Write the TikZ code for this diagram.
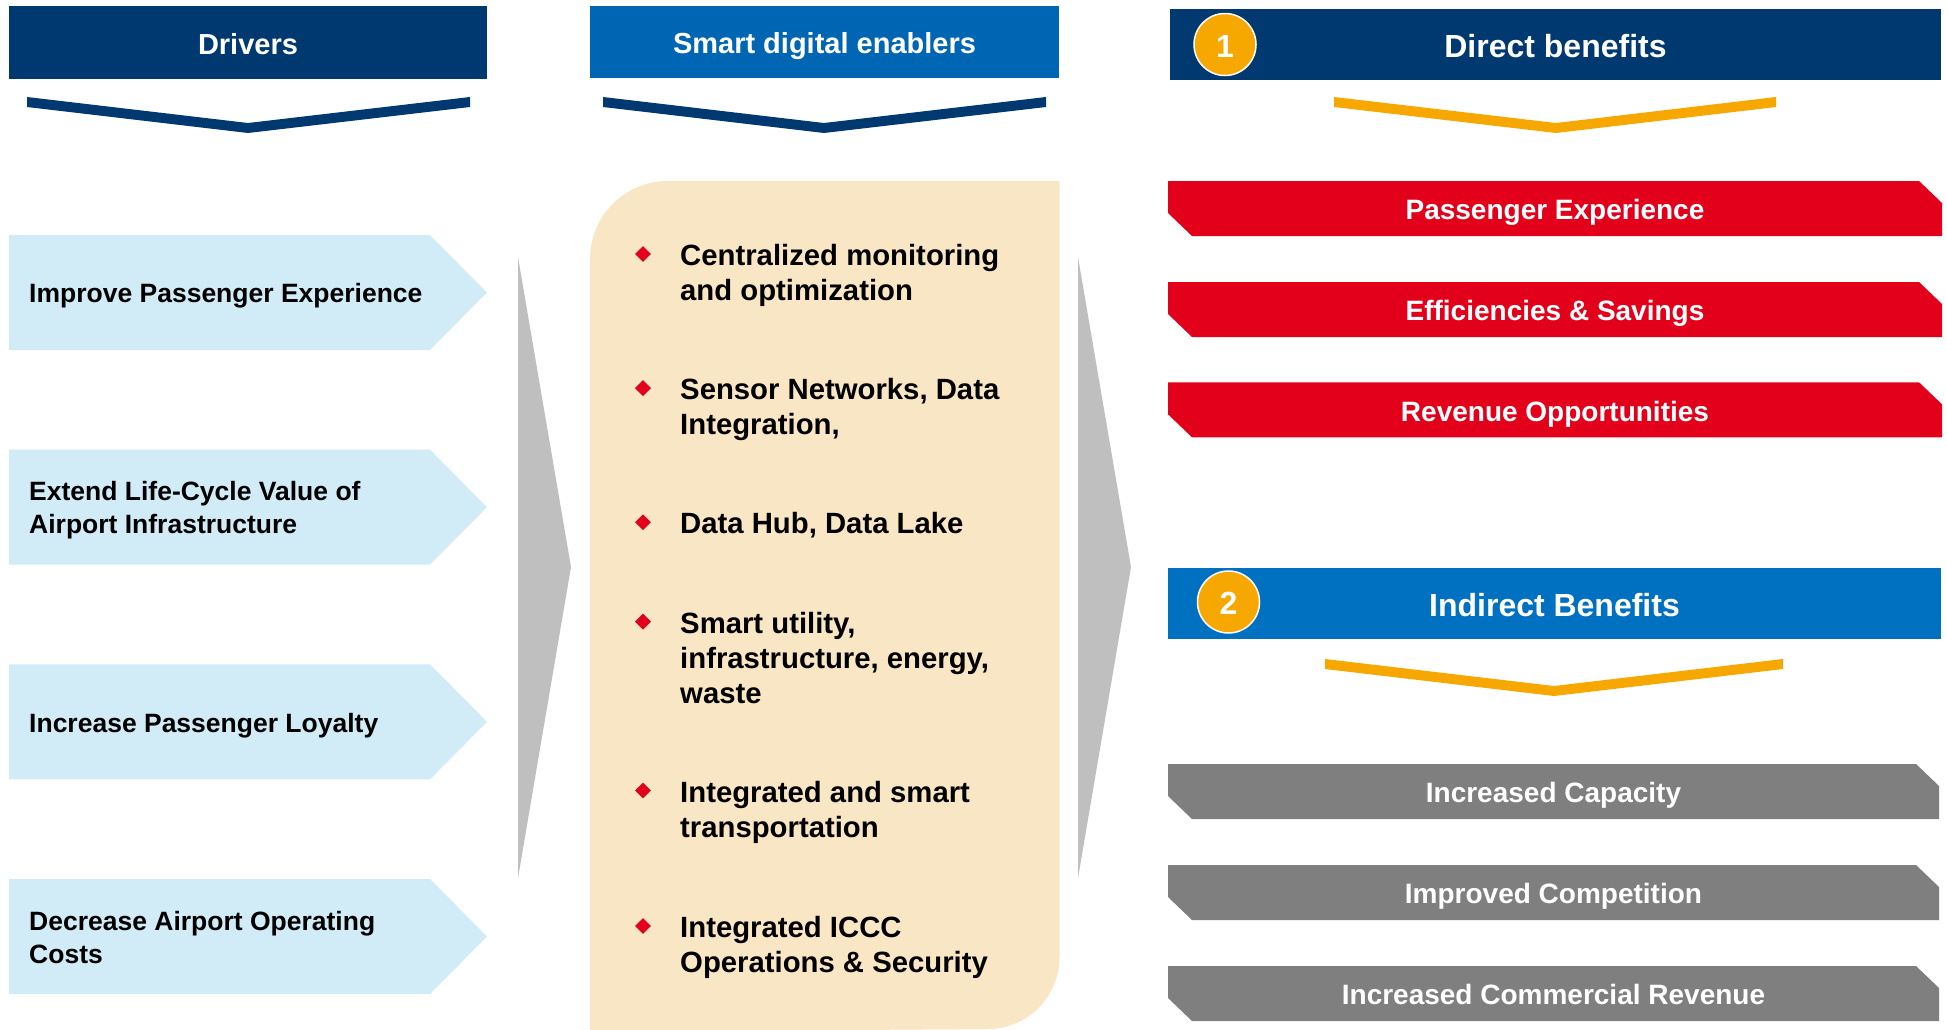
\documentclass[tikz,border=0pt]{standalone}
\usepackage{fontspec}
\setmainfont{Liberation Sans}
\usetikzlibrary{shapes.geometric}
\definecolor{navyC}{HTML}{003870}
\definecolor{midblueC}{HTML}{0066B3}
\definecolor{indblueC}{HTML}{0070C0}
\definecolor{orangeC}{HTML}{F7A800}
\definecolor{lightblueC}{HTML}{D1ECF7}
\definecolor{beigeC}{HTML}{F9E6C4}
\definecolor{redC}{HTML}{E2001A}
\definecolor{greyC}{HTML}{7F7F7F}
\definecolor{triC}{HTML}{BFBFBF}
\tikzset{
  hdrL/.style={inner sep=0pt, text=white, font=\bfseries\fontsize{29}{35}\selectfont, text height=23.5pt, text depth=0pt},
  hdrR/.style={inner sep=0pt, text=white, font=\bfseries\fontsize{32}{38}\selectfont, text height=26pt, text depth=0pt},
  bannertext/.style={inner sep=0pt, text=white, font=\bfseries\fontsize{28}{34}\selectfont, text height=22.5pt, text depth=0pt},
  drvtext/.style={anchor=base west, inner sep=0pt, text=black, font=\bfseries\fontsize{26.5}{33}\selectfont},
  enbtext/.style={anchor=base west, inner sep=0pt, text=black, font=\bfseries\fontsize{29.3}{35}\selectfont},
  bulletmark/.style={diamond, fill=redC, minimum width=16pt, minimum height=16pt, inner sep=0pt},
  numcircle/.style={circle, fill=orangeC, draw=white, line width=1.5pt, minimum size=62pt, inner sep=0pt, text=white, font=\bfseries\fontsize{32}{38}\selectfont, text height=25pt, text depth=0pt},
}
\newcommand{\drvbox}[1]{(9,#1) -- (430,#1) -- (487,#1+57.5) -- (430,#1+115) -- (9,#1+115) -- cycle}
\newcommand{\bannerpath}[3]{(#1,#3) -- (#2-23,#3) -- (#2,#3+22) -- (#2,#3+55) -- (#1+24,#3+55) -- (#1,#3+32) -- cycle}
\begin{document}
\begin{tikzpicture}[x=1pt,y=-1pt]
\useasboundingbox (0,0) rectangle (1947,1029);
\fill[white] (0,0) rectangle (1947,1029);

% ---------- headers ----------
\node[fill=navyC, minimum width=478pt, minimum height=73pt, hdrL] (drivers) at (248,42.5) {Drivers};
\node[fill=midblueC, minimum width=469pt, minimum height=72pt, hdrL] (enablers) at (824.5,42) {Smart digital enablers};
\node[fill=navyC, minimum width=771pt, minimum height=71pt, hdrR] (direct) at (1555.5,44.5) {Direct benefits};
\node[fill=indblueC, minimum width=773pt, minimum height=71pt, hdrR] (indirect) at (1554.5,603) {Indirect Benefits};
\node[numcircle] (one) at (1225,44.5) {1};
\node[numcircle] (two) at (1228.5,602) {2};

% ---------- chevrons ----------
\fill[navyC] (27,97) -- (248,123) -- (470,97) -- (470,107) -- (248,133) -- (27,107) -- cycle;
\fill[navyC] (603,97) -- (824,123) -- (1046,97) -- (1046,107) -- (824,133) -- (603,107) -- cycle;
\fill[orangeC] (1334,97) -- (1556,123) -- (1776,97) -- (1776,107) -- (1556,133) -- (1334,107) -- cycle;
\fill[orangeC] (1325,659) -- (1554,686) -- (1783,659) -- (1783,669) -- (1554,696) -- (1325,669) -- cycle;

% ---------- drivers ----------
\fill[lightblueC] \drvbox{235};
\fill[lightblueC] \drvbox{449.7};
\fill[lightblueC] \drvbox{664.3};
\fill[lightblueC] \drvbox{879};
\node[drvtext] (d1) at (29,302.5) {Improve Passenger Experience};
\node[drvtext] (d2) at (29,500.5) {\begin{tabular}[t]{@{}l@{}}Extend Life-Cycle Value of\\Airport Infrastructure\end{tabular}};
\node[drvtext] (d3) at (29,732) {Increase Passenger Loyalty};
\node[drvtext] (d4) at (29,930) {\begin{tabular}[t]{@{}l@{}}Decrease Airport Operating\\Costs\end{tabular}};

% ---------- grey triangles ----------
\fill[triC] (518,257) -- (571,567) -- (518,878) -- cycle;
\fill[triC] (1078,257) -- (1131,567) -- (1078,878) -- cycle;

% ---------- enablers box ----------
\fill[beigeC] (590,1032) -- (590,259) arc(180:270:78) -- (1059.5,181) -- (1059.5,957) arc(0:90:72) -- cycle;

\node[bulletmark] (b1) at (643,254) {};
\node[enbtext] (e1) at (680,265.5) {\begin{tabular}[t]{@{}l@{}}Centralized monitoring\\and optimization\end{tabular}};
\node[bulletmark] (b2) at (643,388.1) {};
\node[enbtext] (e2) at (680,399.6) {\begin{tabular}[t]{@{}l@{}}Sensor Networks, Data\\Integration,\end{tabular}};
\node[bulletmark] (b3) at (643,522.2) {};
\node[enbtext] (e3) at (680,533.7) {Data Hub, Data Lake};
\node[bulletmark] (b4) at (643,621.6) {};
\node[enbtext] (e4) at (680,633.1) {\begin{tabular}[t]{@{}l@{}}Smart utility,\\infrastructure, energy,\\waste\end{tabular}};
\node[bulletmark] (b5) at (643,790.5) {};
\node[enbtext] (e5) at (680,802) {\begin{tabular}[t]{@{}l@{}}Integrated and smart\\transportation\end{tabular}};
\node[bulletmark] (b6) at (643,926) {};
\node[enbtext] (e6) at (680,937.5) {\begin{tabular}[t]{@{}l@{}}Integrated ICCC\\Operations \& Security\end{tabular}};

% ---------- direct benefit banners ----------
\fill[redC] \bannerpath{1168}{1942}{181};
\fill[redC] \bannerpath{1168}{1942}{282};
\fill[redC] \bannerpath{1168}{1942}{382.3};
\node[bannertext] (r1) at (1555,208.5) {Passenger Experience};
\node[bannertext] (r2) at (1555,309.5) {Efficiencies \& Savings};
\node[bannertext] (r3) at (1555,409.8) {Revenue Opportunities};

% ---------- indirect benefit banners ----------
\fill[greyC] \bannerpath{1168}{1939}{764};
\fill[greyC] \bannerpath{1168}{1939}{865};
\fill[greyC] \bannerpath{1168}{1939}{966};
\node[bannertext] (g1) at (1553.5,791.5) {Increased Capacity};
\node[bannertext] (g2) at (1553.5,892.5) {Improved Competition};
\node[bannertext] (g3) at (1553.5,993.5) {Increased Commercial Revenue};
\end{tikzpicture}
\end{document}
